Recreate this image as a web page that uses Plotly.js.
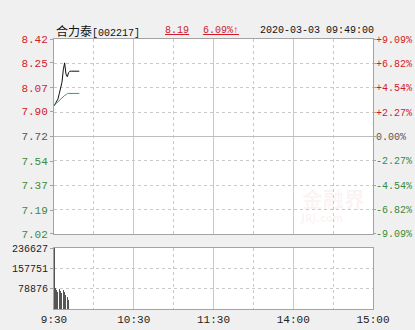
<!DOCTYPE html>
<html>
<head>
<meta charset="utf-8">
<script src="https://cdn.plot.ly/plotly-3.0.1.min.js"></script>
<style>html,body{margin:0;padding:0;background:#f1f0f0;}#chart{width:415px;height:330px;}</style>
</head>
<body>
<div id="chart"></div>
<script>
// ---- data ----
const stockNameCn = "合力泰";
const stockCode = "[002217]";
const lastPrice = "8.19";
const changePct = "6.09%↑";
const stamp = "2020-03-03 09:49:00";
const prevClose = 7.72;

const times = ["09:30","09:31","09:32","09:33","09:34","09:35","09:36","09:37","09:38","09:39",
               "09:40","09:41","09:42","09:43","09:44","09:45","09:46","09:47","09:48","09:49"];
const prices = [7.94,7.96,7.97,7.99,8.03,8.07,8.11,8.20,8.25,8.17,
                8.15,8.18,8.19,8.19,8.19,8.19,8.19,8.19,8.19,8.19];
const avgPrices = [7.945,7.95,7.96,7.97,7.98,7.99,8.00,8.005,8.015,8.02,
                   8.03,8.03,8.03,8.03,8.03,8.03,8.03,8.03,8.03,8.03];
const volTimes = ["09:30","09:31","09:32","09:33","09:34","09:35","09:36","09:37","09:38","09:39","09:40","09:41"];
const volumes = [236627,80000,74000,67000,77000,70000,62000,74000,67000,55000,48000,35000];

const priceTicks = [7.02,7.19,7.37,7.54,7.72,7.90,8.07,8.25,8.42];
const pctTicks = [-9.09,-6.82,-4.54,-2.27,0,2.27,4.54,6.82,9.09];
const pctLabels = ["-9.09%","-6.82%","-4.54%","-2.27%","0.00%","+2.27%","+4.54%","+6.82%","+9.09%"];
const volTicks = [78876,157751,236627];
const timeTickLabels = ["9:30","10:30","11:30","14:00","15:00"];
const timeTickVals = [0,60,120,180,240];

// ---- helpers ----
const toMin = t => { const [h,m] = t.split(":").map(Number); let v = (h*60+m) - (9*60+30); if (v > 120) v -= 90; return v; };
const RED = "#d01b2a", GREEN = "#3b8a3b", GRAY = "#555555";
const colorFor = v => v > 0 ? RED : (v < 0 ? GREEN : GRAY);
const priceRange = [prevClose*(1-0.0909), prevClose*(1+0.0909)];
const pctRange = priceRange.map(p => (p/prevClose-1)*100);
const MONO = "Liberation Mono, DejaVu Sans Mono, monospace";
const GRID = "#c9c9c9", BORDER = "#a3a3a3";

const traces = [
  // invisible carrier so the right-hand percentage axis is drawn
  {x: times.map(toMin), y: prices.map(p => (p/prevClose-1)*100), type: "scatter", mode: "lines",
   line: {color: "rgba(0,0,0,0)", width: 0}, xaxis: "x", yaxis: "y3", hoverinfo: "skip"},
  {x: times.map(toMin), y: prices, type: "scatter", mode: "lines", line: {color: "#111", width: 1}, xaxis: "x", yaxis: "y", hoverinfo: "skip"},
  {x: times.map(toMin), y: avgPrices, type: "scatter", mode: "lines", line: {color: "#3f9191", width: 1}, xaxis: "x", yaxis: "y", hoverinfo: "skip"},
  {x: volTimes.map(toMin), y: volumes, type: "bar", marker: {color: "#555555", line: {width: 0}}, width: 0.75, xaxis: "x2", yaxis: "y2", hoverinfo: "skip"}
];

const xCommon = {
  range: [0, 240], tickvals: timeTickVals, ticktext: timeTickLabels,
  showgrid: true, gridcolor: GRID, gridwidth: 1,
  minor: {dtick: 30, tick0: 0, showgrid: true, gridcolor: GRID, griddash: "dot", ticks: ""},
  showline: true, mirror: true, linecolor: BORDER, linewidth: 1,
  zeroline: false, ticks: "", fixedrange: true
};

const layout = {
  width: 415, height: 330,
  margin: {l: 54, r: 42, t: 39, b: 21},
  paper_bgcolor: "#f1f0f0", plot_bgcolor: "#ffffff",
  showlegend: false, bargap: 0,
  font: {family: MONO, size: 10, color: "#222"},
  xaxis: Object.assign({}, xCommon, {anchor: "y", showticklabels: false}),
  xaxis2: Object.assign({}, xCommon, {anchor: "y2", showticklabels: true, tickfont: {family: MONO, size: 11, color: "#222"}}),
  yaxis: {
    domain: [0.2778, 1], range: priceRange, anchor: "x",
    tickvals: priceTicks,
    ticktext: priceTicks.map(v => `<span style="color:${colorFor(v - prevClose)}">${v.toFixed(2)}</span>`),
    tickfont: {family: MONO, size: 11},
    ticks: "outside", ticklen: 3, tickcolor: BORDER,
    showgrid: false, zeroline: false,
    showline: true, mirror: true, linecolor: BORDER, fixedrange: true
  },
  yaxis3: {
    overlaying: "y", side: "right", anchor: "x", range: pctRange,
    tickvals: pctTicks,
    ticktext: pctTicks.map((v,i) => `<span style="color:${colorFor(v)}">${pctLabels[i]}</span>`),
    tickfont: {family: MONO, size: 10},
    ticks: "outside", ticklen: 2, tickcolor: BORDER, ticklabelstandoff: -2,
    showgrid: true, gridcolor: GRID, griddash: "dot",
    zeroline: true, zerolinecolor: "#bdbdbd", zerolinewidth: 1,
    showline: false, fixedrange: true
  },
  yaxis2: {
    domain: [0, 0.2259], range: [0, 236627], anchor: "x2",
    tickvals: volTicks, ticktext: volTicks.map(String),
    tickfont: {family: MONO, size: 10, color: "#222"},
    ticks: "outside", ticklen: 3, tickcolor: BORDER,
    showgrid: true, gridcolor: GRID, griddash: "dot",
    zeroline: false, showline: true, mirror: true, linecolor: BORDER, fixedrange: true
  },
  annotations: [
    {xref: "paper", yref: "paper", x: 0, y: 1.03, xanchor: "left", yanchor: "middle", showarrow: false,
     text: `${stockNameCn}<span style="font-family:Liberation Mono;font-size:10px">${stockCode}</span>`,
     font: {family: "Noto Sans CJK SC", size: 12, color: "#111"}},
    {xref: "paper", yref: "paper", x: 0.342, y: 1.03, xanchor: "left", yanchor: "middle", showarrow: false,
     text: `<span style="text-decoration:underline">${lastPrice}</span>`, font: {family: MONO, size: 10, color: RED}},
    {xref: "paper", yref: "paper", x: 0.461, y: 1.03, xanchor: "left", yanchor: "middle", showarrow: false,
     text: `<span style="text-decoration:underline">${changePct}</span>`, font: {family: MONO, size: 10, color: RED}},
    {xref: "paper", yref: "paper", x: 1.008, y: 1.03, xanchor: "right", yanchor: "middle", showarrow: false,
     text: stamp, font: {family: MONO, size: 10, color: "#111"}},
    {xref: "paper", yref: "paper", x: 0.875, y: 0.41, xanchor: "center", yanchor: "middle", showarrow: false,
     text: "<b>金融界</b>", font: {family: "Noto Sans CJK SC", size: 21, color: "rgba(215,90,90,0.08)"}},
    {xref: "paper", yref: "paper", x: 0.84, y: 0.335, xanchor: "center", yanchor: "middle", showarrow: false,
     text: "<b>JRJ.com</b>", font: {family: "DejaVu Sans", size: 10, color: "rgba(215,90,90,0.08)"}}
  ]
};

Plotly.newPlot("chart", traces, layout, {displayModeBar: false, staticPlot: true});
</script>
</body>
</html>
